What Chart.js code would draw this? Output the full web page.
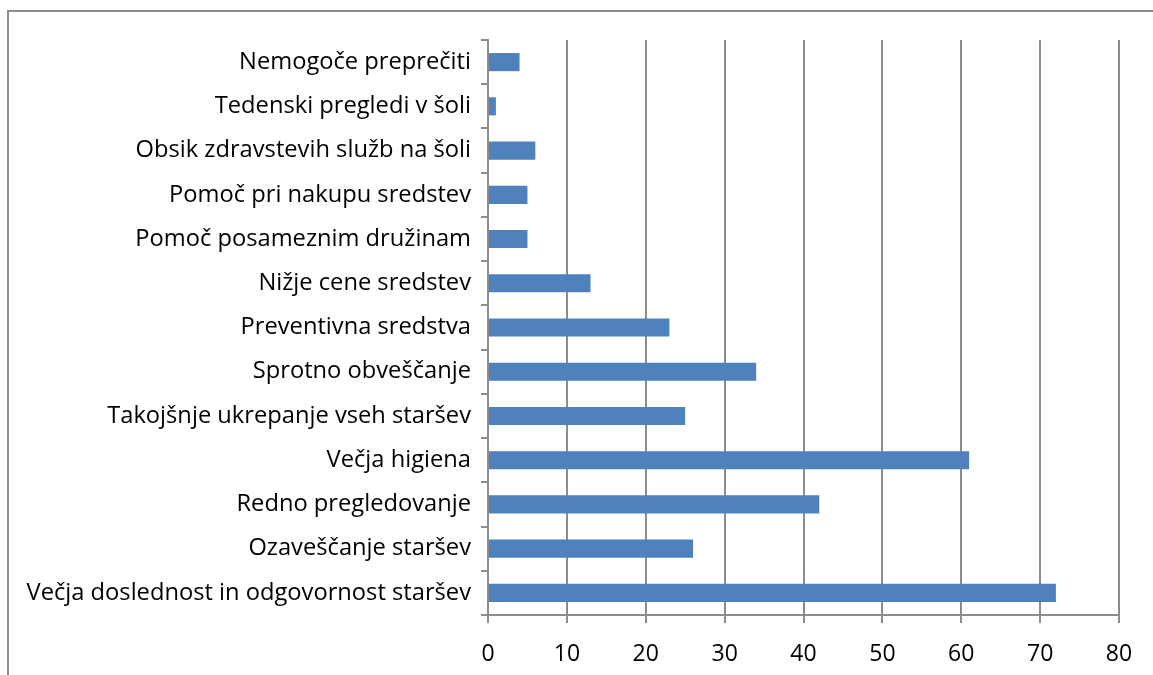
<!DOCTYPE html>
<html>
<head>
<meta charset="utf-8">
<script src="https://cdn.jsdelivr.net/npm/chart.js@4"></script>
<style>
	html, body { margin: 0; padding: 0; background: #fff; }
	#wrap { position: relative; width: 1153px; height: 675px; overflow: hidden; }
	#frame { position: absolute; left: 7px; top: 10px; width: 1200px; height: 700px; border-left: 2px solid #8c8c8c; border-top: 2px solid #8c8c8c; }
	canvas { position: absolute; left: 0; top: 0; }
</style>
</head>
<body>
<div id="wrap">
	<div id="frame"></div>
	<canvas id="chart" width="1153" height="675"></canvas>
</div>
<script>
// categories from top to bottom
const categories = [
	"Nemogoče preprečiti",
	"Tedenski pregledi v šoli",
	"Obsik zdravstevih služb na šoli",
	"Pomoč pri nakupu sredstev",
	"Pomoč posameznim družinam",
	"Nižje cene sredstev",
	"Preventivna sredstva",
	"Sprotno obveščanje",
	"Takojšnje ukrepanje vseh staršev",
	"Večja higiena",
	"Redno pregledovanje",
	"Ozaveščanje staršev",
	"Večja doslednost in odgovornost staršev",
];
const values = [4, 1, 6, 5, 5, 13, 23, 34, 25, 61, 42, 26, 72];
const xTicks = [0, 10, 20, 30, 40, 50, 60, 70, 80];

const font = "'Open Sans', sans-serif";

const chart = new Chart(document.getElementById("chart"), {
	type: "bar",
	data: {
		labels: categories,
		datasets: [
			{
				data: values,
				backgroundColor: "#4F81BD",
				borderWidth: 0,
				categoryPercentage: 1,
				barPercentage: 0.41,
			},
		],
	},
	options: {
		indexAxis: "y",
		responsive: false,
		animation: false,
		layout: { padding: { left: 0, right: 34, top: 40, bottom: 0 } },
		plugins: { legend: { display: false }, tooltip: { enabled: false } },
		scales: {
			x: {
				min: 0,
				max: 80,
				afterBuildTicks: (s) => { s.ticks = xTicks.map((v) => ({ value: v })); },
				afterFit: (s) => { s.height = 60; },
				grid: { color: "#8c8c8c", lineWidth: 2, tickLength: 8 },
				border: { color: "#8c8c8c", width: 2 },
				ticks: { color: "#000", font: { family: font, size: 23 }, padding: 18 },
			},
			y: {
				afterFit: (s) => { s.width = 488; },
				grid: { display: true, drawOnChartArea: false, offset: true, color: "#8c8c8c", lineWidth: 2, tickLength: 7 },
				border: { color: "#8c8c8c", width: 2 },
				ticks: { color: "#000", font: { family: font, size: 23.7 }, padding: 10, autoSkip: false },
			},
		},
	},
});
</script>
</body>
</html>
